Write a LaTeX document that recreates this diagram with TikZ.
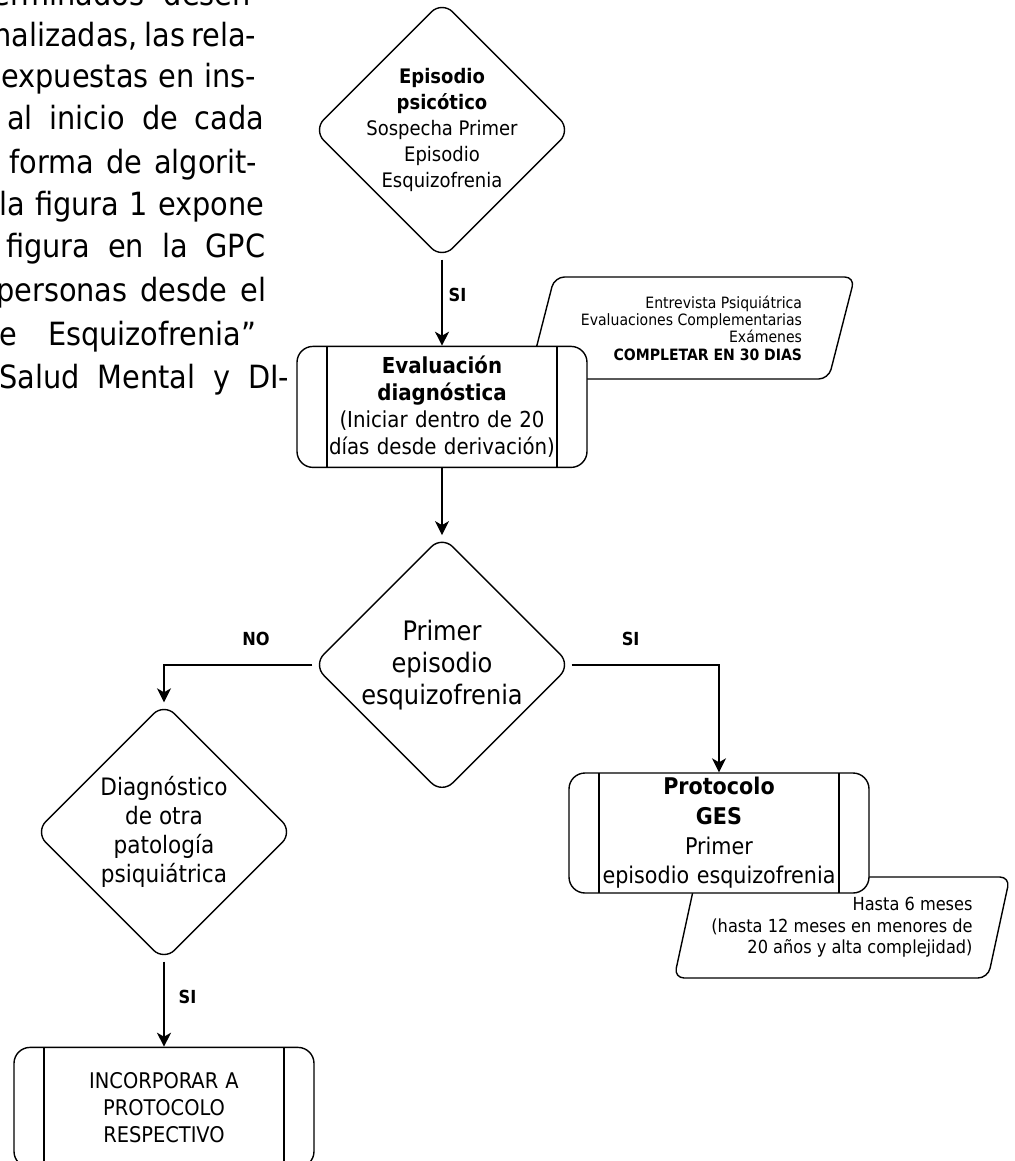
\documentclass[tikz,border=0pt]{standalone}
\usepackage{fontspec}
\setmainfont{DejaVu Sans Condensed}
\usetikzlibrary{arrows.meta, positioning}
\usetikzlibrary{shapes.geometric}
\tikzset{
  decision/.style={
      diamond, draw, fill=white,
      rounded corners=7.5pt,
      minimum width=129pt, minimum height=129pt,
      inner sep=-3em, align=center,
    },
  process/.style={
      rectangle, draw, fill=white,
      rounded corners=8pt,
      minimum width=150pt, minimum height=60pt,
      text width=118pt, align=center, inner ysep=0pt,
      path picture={
          \draw ([xshift=15pt]path picture bounding box.north west) -- ([xshift=15pt]path picture bounding box.south west);
          \draw ([xshift=-15pt]path picture bounding box.north east) -- ([xshift=-15pt]path picture bounding box.south east);
        },
    },
  remark/.style={
      trapezium, draw, fill=white,
      trapezium left angle=72, trapezium right angle=108,
      trapezium stretches=true,
      rounded corners=5pt, align=right, inner sep=0pt,
    },
  answer/.style={
      font=\fontsize{9}{10}\selectfont\bfseries,
      inner sep=0pt,
    },
  body/.style={
      font=\fontsize{16}{18}\selectfont,
      inner sep=0pt, anchor=base east,
    },
  flow/.style={
      -{Stealth[length=7pt, width=7pt, inset=2pt]}
    },
}

\begin{document}
\begin{tikzpicture}[x=0.5pt, y=-0.5pt, line width=0.7pt]
  \useasboundingbox (0,0) rectangle (1015,1161);
  \clip (0,0) rectangle (1015,1161);
  % texto de la pagina (justificado)
  \foreach \txt/\boxw/\xe/\yb [count=\i] in {terminados desen-/140/262/6, {nalizadas, las rela-}/130.5/255/46.5,
      expuestas en ins-/127.5/257/88, al inicio de cada/128.5/265/130, forma de algorit-/124/258/173,
      la figura 1 expone/132.5/265/215, figura en la GPC/129.5/266/257, personas desde el/135/267/301,
      e Esquizofrenia”/128.5/257/345, Salud Mental y DI-/145/290/388}
    \node[body] (body-\i) at (\xe,\yb) {\makebox[\boxw pt][s]{\txt}};

  \node[decision, font=\fontsize{10}{13}\selectfont] (episodio) at (442,130)
    {\textbf{Episodio}\\\textbf{psicótico}\\Sospecha Primer\\Episodio\\Esquizofrenia};
  \node[remark, minimum width=163.5pt, minimum height=51pt,
    font=\fontsize{7.8}{8.7}\selectfont] (entrevista) at (691.5,328)
    {Entrevista Psiquiátrica\\Evaluaciones Complementarias\\Exámenes\\\textbf{COMPLETAR EN 30 DIAS}};
  \node[process, below=43pt of episodio, minimum width=145pt, minimum height=60.5pt,
    font=\fontsize{11}{13.5}\selectfont] (evaluacion)
    {\textbf{Evaluación}\\\textbf{diagnóstica}\\(Iniciar dentro de 20\\días desde derivación)};
  \node[decision, below=33.5pt of evaluacion, font=\fontsize{13.4}{16}\selectfont] (primer)
    {Primer\\episodio\\esquizofrenia};
  \node[decision, font=\fontsize{12}{14.5}\selectfont] (diagnostico) at (164,832)
    {Diagnóstico\\de otra\\patología\\psiquiátrica};
  \node[remark, minimum width=168pt, minimum height=50.5pt,
    font=\fontsize{9}{10.8}\selectfont] (plazo) at (842,927.5)
    {Hasta 6 meses\\(hasta 12 meses en menores de\\20 años y alta complejidad)};
  \node[process, font=\fontsize{11.5}{14.8}\selectfont] (protocolo) at (719,833)
    {\textbf{Protocolo}\\\textbf{GES}\\Primer\\episodio esquizofrenia};
  \node[process, below=42.5pt of diagnostico, font=\fontsize{10.8}{13.5}\selectfont] (incorporar)
    {INCORPORAR A\\PROTOCOLO\\RESPECTIVO};

  \draw[flow] (episodio.south) -- node[answer, right=3pt, pos=.41] {SI} (evaluacion.north);
  \draw[flow] (evaluacion.south) -- (primer.north);
  \draw[flow] (primer.west) -| node[answer, above=9pt, pos=.19] {NO} (diagnostico.north);
  \draw[flow] (primer.east) -| node[answer, above=9pt, pos=.2] {SI} (protocolo.north);
  \draw[flow] (diagnostico.south) -- node[answer, right=7pt, pos=.42] {SI} (incorporar.north);
\end{tikzpicture}
\end{document}
